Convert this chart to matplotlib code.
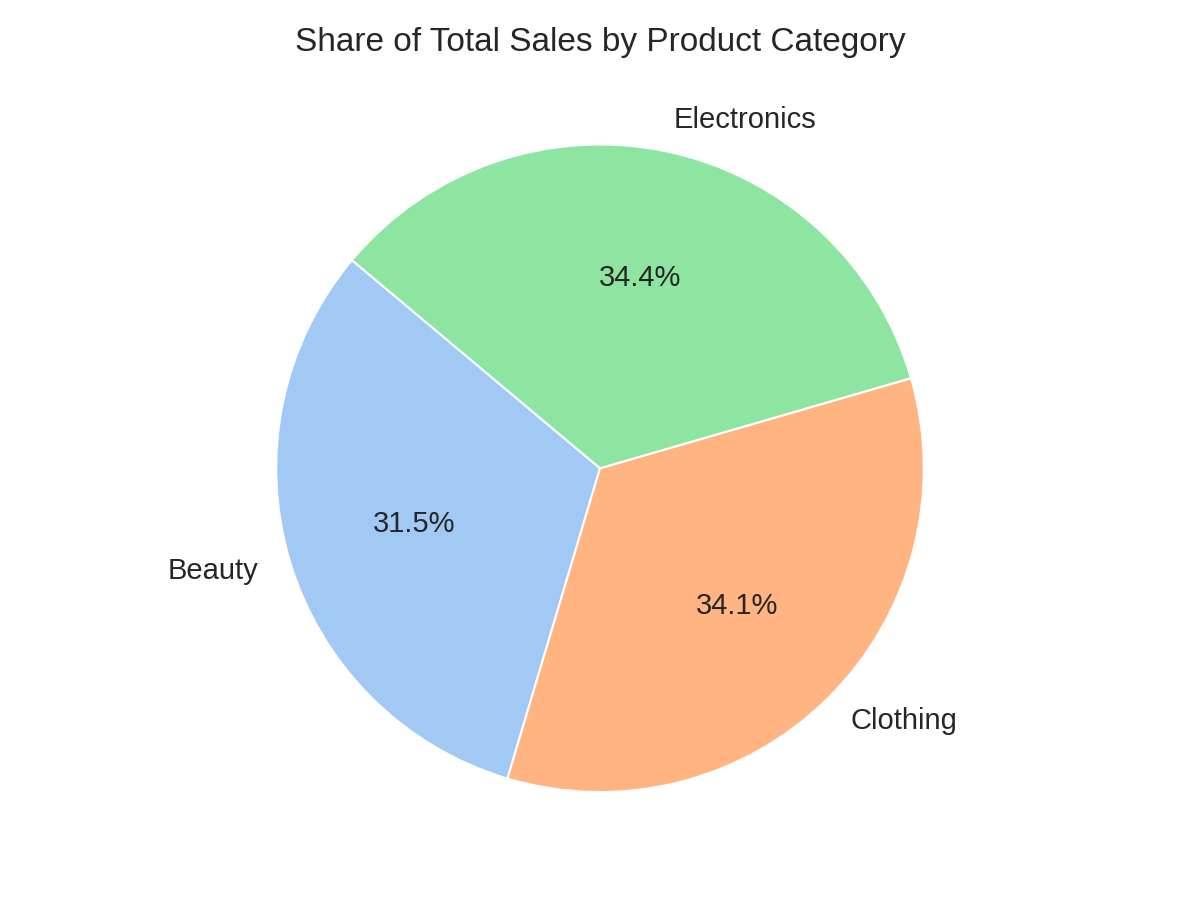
import matplotlib
matplotlib.use("Agg")
import matplotlib.pyplot as plt
import seaborn as sns

categories = ["Beauty", "Clothing", "Electronics"]
shares = [31.5, 34.1, 34.4]
title = "Share of Total Sales by Product Category"

sns.set_theme(style="whitegrid", palette="pastel")
plt.rcParams['font.family'] = ['Liberation Sans', 'DejaVu Sans']

colors = sns.color_palette("pastel")[:3]
fig, ax = plt.subplots(figsize=(8, 6), dpi=150)
ax.pie(shares, labels=categories, autopct="%1.1f%%", startangle=140,
       colors=colors, wedgeprops={"edgecolor": "white", "linewidth": 1},
       textprops={"fontsize": 14})
ax.set_title(title, fontsize=16)
plt.tight_layout()
fig.savefig("out.png")
